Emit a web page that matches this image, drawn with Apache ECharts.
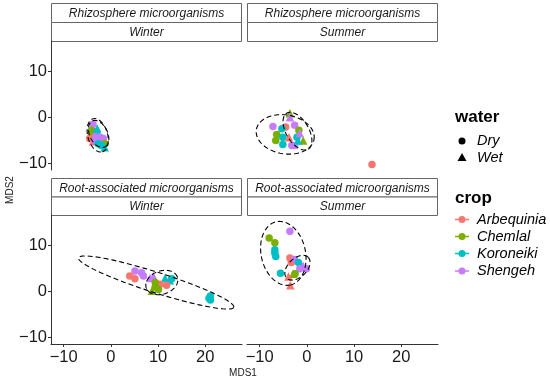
<!DOCTYPE html>
<html>
<head>
<meta charset="utf-8">
<script src="https://cdn.jsdelivr.net/npm/echarts@6/dist/echarts.min.js"></script>
<style>html,body{margin:0;padding:0;background:#fff}#c{width:550px;height:380px}</style>
</head>
<body>
<div id="c"></div>
<script>
// ---- data ----
var crops = ['Arbequinia', 'Chemlal', 'Koroneiki', 'Shengeh'];
var waters = ['Dry', 'Wet'];
var cropColors = {Arbequinia: '#F8766D', Chemlal: '#7CAE00', Koroneiki: '#00BFC4', Shengeh: '#C77CFF'};
var xTicks = [-10, 0, 10, 20];
var yTicks = [-10, 0, 10];
var stripTop = ['Rhizosphere microorganisms', 'Rhizosphere microorganisms', 'Root-associated microorganisms', 'Root-associated microorganisms'];
var stripBottom = ['Winter', 'Summer', 'Winter', 'Summer'];

// points: [MDS1, MDS2, crop, water]
var rhizoWinter = [
  [-3.8, -1.5, 'Shengeh', 'Dry'], [-4.1, -2.8, 'Chemlal', 'Dry'], [-3.0, -3.2, 'Koroneiki', 'Dry'],
  [-4.1, -3.9, 'Chemlal', 'Dry'], [-3.4, -3.6, 'Shengeh', 'Wet'], [-2.3, -4.3, 'Shengeh', 'Dry'],
  [-4.5, -4.6, 'Arbequinia', 'Dry'], [-3.8, -5.2, 'Arbequinia', 'Wet'], [-3.4, -5.0, 'Shengeh', 'Dry'],
  [-1.6, -4.6, 'Shengeh', 'Dry'], [-2.7, -5.7, 'Koroneiki', 'Dry'], [-1.3, -5.7, 'Chemlal', 'Dry'],
  [-2.0, -6.1, 'Koroneiki', 'Dry'], [-1.3, -6.5, 'Koroneiki', 'Wet'], [-2.9, -2.4, 'Koroneiki', 'Wet']
];
var rhizoSummer = [
  [-3.6, 0.9, 'Chemlal', 'Wet'], [-3.6, 0.0, 'Shengeh', 'Wet'], [-7.2, -2.0, 'Shengeh', 'Dry'],
  [-4.5, -2.1, 'Arbequinia', 'Dry'], [-5.3, -2.5, 'Koroneiki', 'Dry'], [-2.6, -1.7, 'Shengeh', 'Dry'],
  [-6.4, -3.7, 'Chemlal', 'Dry'], [-6.6, -5.0, 'Chemlal', 'Dry'], [-5.1, -4.3, 'Koroneiki', 'Dry'],
  [-3.8, -4.3, 'Arbequinia', 'Wet'], [-1.7, -2.8, 'Chemlal', 'Dry'], [-0.8, -5.0, 'Chemlal', 'Wet'],
  [-2.1, -4.3, 'Koroneiki', 'Dry'], [-5.1, -5.9, 'Koroneiki', 'Dry'], [-3.2, -6.1, 'Shengeh', 'Dry'],
  [-2.6, -6.1, 'Shengeh', 'Dry'], [-1.9, -5.0, 'Koroneiki', 'Wet'], [-1.5, -3.4, 'Shengeh', 'Wet'],
  [13.8, -10.2, 'Arbequinia', 'Dry']
];
var rootWinter = [
  [5.1, 4.4, 'Shengeh', 'Dry'], [6.5, 4.0, 'Shengeh', 'Dry'], [4.0, 3.3, 'Arbequinia', 'Dry'],
  [5.1, 2.7, 'Arbequinia', 'Dry'], [6.9, 3.3, 'Shengeh', 'Dry'], [9.0, 3.3, 'Shengeh', 'Wet'],
  [8.3, 2.9, 'Shengeh', 'Wet'], [11.5, 2.9, 'Koroneiki', 'Wet'], [12.9, 2.7, 'Koroneiki', 'Dry'],
  [12.5, 2.4, 'Koroneiki', 'Wet'], [10.4, 1.5, 'Arbequinia', 'Dry'], [11.8, 1.3, 'Arbequinia', 'Dry'],
  [9.4, 1.9, 'Chemlal', 'Dry'], [8.7, 0.1, 'Chemlal', 'Wet'], [10.1, 0.4, 'Chemlal', 'Dry'],
  [9.4, 0.9, 'Chemlal', 'Dry'], [21.1, -1.0, 'Koroneiki', 'Dry'], [21.1, -1.9, 'Koroneiki', 'Dry'],
  [20.8, -1.5, 'Koroneiki', 'Dry']
];
var rootSummer = [
  [-3.6, 13.0, 'Shengeh', 'Dry'], [-8.0, 11.5, 'Chemlal', 'Dry'], [-6.8, 10.5, 'Chemlal', 'Dry'],
  [-6.8, 9.0, 'Koroneiki', 'Dry'], [-6.8, 8.3, 'Koroneiki', 'Dry'], [-6.6, 7.5, 'Koroneiki', 'Dry'],
  [-3.6, 7.2, 'Arbequinia', 'Dry'], [-3.3, 6.2, 'Arbequinia', 'Dry'], [-2.6, 6.9, 'Shengeh', 'Dry'],
  [-1.8, 6.2, 'Koroneiki', 'Dry'], [-1.2, 5.5, 'Koroneiki', 'Wet'], [-1.5, 4.9, 'Shengeh', 'Dry'],
  [-0.1, 4.9, 'Shengeh', 'Dry'], [-0.8, 5.5, 'Shengeh', 'Wet'], [-5.6, 3.9, 'Koroneiki', 'Dry'],
  [-2.9, 3.8, 'Chemlal', 'Wet'], [-2.5, 3.8, 'Chemlal', 'Dry'], [-3.9, 3.2, 'Arbequinia', 'Wet'],
  [-3.5, 1.3, 'Arbequinia', 'Wet']
];
// ellipses: [centerX, centerY, semiMajor, semiMinor, angleDeg]
var ellRhizoWinter = [[-2.8, -3.9, 3.7, 2.1, -75], [-2.6, -3.6, 3.1, 1.9, -65]];
var ellRhizoSummer = [[-4.6, -3.7, 6.2, 4.2, -10], [-2.0, -3.0, 4.5, 2.4, -60]];
var ellRootWinter = [[9.6, 1.9, 17.3, 2.2, -18], [10.8, 1.9, 3.5, 2.5, 20]];
var ellRootSummer = [[-5.0, 8.2, 7.0, 4.7, -78], [-2.0, 5.1, 3.2, 2.0, 45]];

var panels = [rhizoWinter, rhizoSummer, rootWinter, rootSummer];
var panelEll = [ellRhizoWinter, ellRhizoSummer, ellRootWinter, ellRootSummer];

// ---- layout ----
var gx = [51, 247], gy = [41, 215], gw = 191, gh = 129;
var stripY = [[3, 22], [178, 196.5]];
var XMIN = -12.7, XMAX = 27.8, YMIN = -11.4, YMAX = 16.5;
var txt = '#1a1a1a';
function minus(v) { return String(v).replace('-', '\u2212'); }

var grids = [], xAxes = [], yAxes = [], series = [], graphics = [];
for (var i = 0; i < 4; i++) {
  var col = i % 2, row = Math.floor(i / 2);
  grids.push({left: gx[col], top: gy[row], width: gw, height: gh, outerBoundsMode: 'none', containLabel: false});
  xAxes.push({
    gridIndex: i, type: 'value', min: XMIN, max: XMAX, show: row === 1,
    splitLine: {show: false},
    axisLine: {show: true, onZero: false, lineStyle: {color: '#333', width: 1}},
    axisTick: {show: true, length: 3, customValues: xTicks, lineStyle: {color: '#333'}},
    axisLabel: {customValues: xTicks, formatter: minus, color: txt, fontSize: 16.5, fontFamily: 'Liberation Sans, Arial', margin: 5}
  });
  yAxes.push({
    gridIndex: i, type: 'value', min: YMIN, max: YMAX, show: col === 0,
    splitLine: {show: false},
    axisLine: {show: true, onZero: false, lineStyle: {color: '#333', width: 1}},
    axisTick: {show: true, length: 3, customValues: yTicks, lineStyle: {color: '#333'}},
    axisLabel: {customValues: yTicks, formatter: minus, color: txt, fontSize: 16.5, fontFamily: 'Liberation Sans, Arial', margin: 4}
  });
  series.push({
    type: 'scatter', xAxisIndex: i, yAxisIndex: i, data: panels[i],
    symbol: function (v) { return v[3] === 'Wet' ? 'triangle' : 'circle'; },
    symbolSize: function (v) { return v[3] === 'Wet' ? 8.5 : 7.5; },
    itemStyle: {color: function (p) { return cropColors[p.value[2]]; }, opacity: 1},
    emphasis: {disabled: true}, z: 2
  });
  series.push({
    type: 'custom', xAxisIndex: i, yAxisIndex: i, data: panelEll[i], silent: true, z: 3,
    clip: false,
    renderItem: function (params, api) {
      var cx = api.value(0), cy = api.value(1), a = api.value(2), b = api.value(3), th = api.value(4) * Math.PI / 180;
      var pts = [];
      for (var k = 0; k < 100; k++) {
        var t = k / 100 * Math.PI * 2;
        var ex = cx + a * Math.cos(t) * Math.cos(th) - b * Math.sin(t) * Math.sin(th);
        var ey = cy + a * Math.cos(t) * Math.sin(th) + b * Math.sin(t) * Math.cos(th);
        pts.push(api.coord([ex, ey]));
      }
      return {type: 'polygon', shape: {points: pts}, style: {fill: 'none', stroke: '#000', lineWidth: 1.1, lineDash: [5, 3]}};
    }
  });
  // strips
  var sy = stripY[row];
  graphics.push({type: 'rect', shape: {x: gx[col] + 0.5, y: sy[0] + 0.5, width: gw - 1, height: sy[1] - sy[0]}, style: {fill: '#fff', stroke: '#666', lineWidth: 1}});
  graphics.push({type: 'rect', shape: {x: gx[col] + 0.5, y: sy[1] + 0.5, width: gw - 1, height: gy[row] - sy[1]}, style: {fill: '#fff', stroke: '#666', lineWidth: 1}});
  graphics.push({type: 'text', x: gx[col] + gw / 2, y: (sy[0] + sy[1]) / 2 + 1, style: {text: stripTop[i], fill: txt, font: 'italic 12px Liberation Sans, Arial', textAlign: 'center', textVerticalAlign: 'middle'}});
  graphics.push({type: 'text', x: gx[col] + gw / 2, y: (sy[1] + gy[row]) / 2 + 1, style: {text: stripBottom[i], fill: txt, font: 'italic 12px Liberation Sans, Arial', textAlign: 'center', textVerticalAlign: 'middle'}});
}
// axis titles
graphics.push({type: 'text', x: 243, y: 373, style: {text: 'MDS1', fill: '#222', font: '10px Liberation Sans, Arial', textAlign: 'center', textVerticalAlign: 'middle'}});
graphics.push({type: 'text', x: 10, y: 190, rotation: Math.PI / 2, style: {text: 'MDS2', fill: '#222', font: '10px Liberation Sans, Arial', textAlign: 'center', textVerticalAlign: 'middle'}});
// legend
var lx = 462, tx = 477;
graphics.push({type: 'text', x: 455, y: 117, style: {text: 'water', fill: '#000', font: 'bold 17px Liberation Sans, Arial', textAlign: 'left', textVerticalAlign: 'middle'}});
var wy = [141, 157.5];
graphics.push({type: 'circle', shape: {cx: lx, cy: wy[0], r: 3.5}, style: {fill: '#000'}});
graphics.push({type: 'polygon', shape: {points: [[lx, wy[1] - 4.5], [lx - 4.5, wy[1] + 3.5], [lx + 4.5, wy[1] + 3.5]]}, style: {fill: '#000'}});
for (var w = 0; w < waters.length; w++) {
  graphics.push({type: 'text', x: tx, y: wy[w], style: {text: waters[w], fill: '#000', font: 'italic 14.5px Liberation Sans, Arial', textAlign: 'left', textVerticalAlign: 'middle'}});
}
graphics.push({type: 'text', x: 455, y: 198, style: {text: 'crop', fill: '#000', font: 'bold 17px Liberation Sans, Arial', textAlign: 'left', textVerticalAlign: 'middle'}});
var cy0 = [219.5, 236.5, 253.5, 271];
for (var c = 0; c < crops.length; c++) {
  var col2 = cropColors[crops[c]];
  graphics.push({type: 'line', shape: {x1: lx - 7, y1: cy0[c], x2: lx + 7, y2: cy0[c]}, style: {stroke: col2, lineWidth: 1.5}});
  graphics.push({type: 'circle', shape: {cx: lx, cy: cy0[c], r: 3.5}, style: {fill: col2}});
  graphics.push({type: 'text', x: tx, y: cy0[c], style: {text: crops[c], fill: '#000', font: 'italic 14.5px Liberation Sans, Arial', textAlign: 'left', textVerticalAlign: 'middle'}});
}

var chart = echarts.init(document.getElementById('c'), null, {renderer: 'canvas'});
chart.setOption({
  animation: false,
  backgroundColor: '#fff',
  grid: grids, xAxis: xAxes, yAxis: yAxes, series: series,
  graphic: graphics
});
</script>
</body>
</html>
